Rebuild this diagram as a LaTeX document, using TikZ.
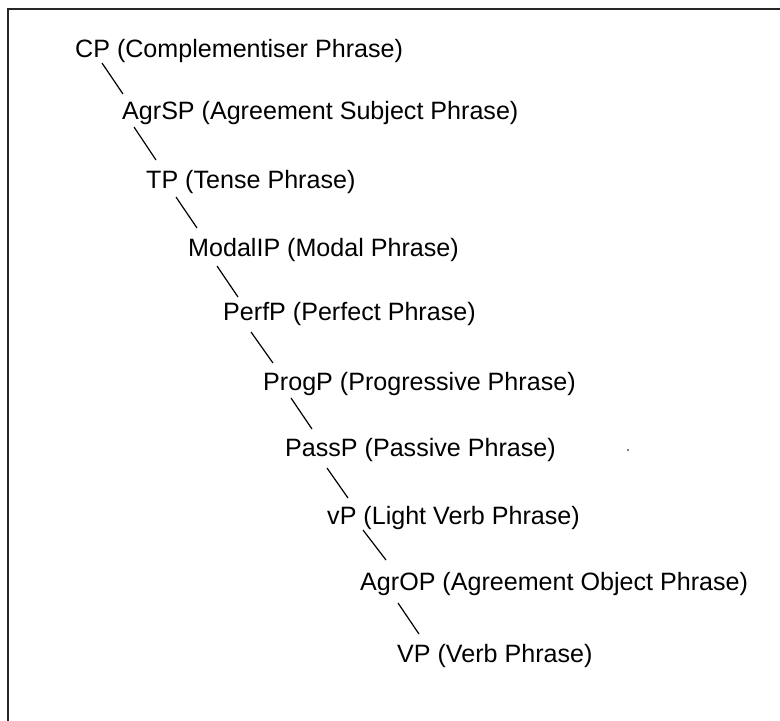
\documentclass[tikz,border=0pt]{standalone}
\usepackage{fontspec}
\setmainfont{Liberation Sans}
\begin{document}
\begin{tikzpicture}[x=1pt,y=-1pt,
  lbl/.style={inner sep=0pt, anchor=base west, font=\fontsize{25.1}{30}\selectfont},
  branch/.style={line width=1.2pt, black},
  frame/.style={line width=2pt, black!85}]
\useasboundingbox (0,0) rectangle (780,721);
% outer frame (open to the right and bottom)
\draw[frame] (8,730) -- (8,9) -- (790,9);

% phrase labels
\node[lbl] (cp)    at (75,57)   {CP (Complementiser Phrase)};
\node[lbl] (agrs)  at (122,119) {AgrSP (Agreement Subject Phrase)};
\node[lbl] (tp)    at (146,188) {TP (Tense Phrase)};
\node[lbl] (modal) at (188,256) {ModalIP (Modal Phrase)};
\node[lbl] (perf)  at (223,320) {PerfP (Perfect Phrase)};
\node[lbl] (prog)  at (263,390) {ProgP (Progressive Phrase)};
\node[lbl] (pass)  at (285,456) {PassP (Passive Phrase)};
\node[lbl] (vp)    at (327,524) {vP (Light Verb Phrase)};
\node[lbl] (agro)  at (360,590) {AgrOP (Agreement Object Phrase)};
\node[lbl] (verb)  at (397,662) {VP (Verb Phrase)};

% stray dot
\fill (628,450) circle (0.9);

% branches
\draw[branch] ([shift={(27,6)}]cp.base west)    -- ([shift={(1,-25)}]agrs.base west);
\draw[branch] ([shift={(12,8)}]agrs.base west)  -- ([shift={(10,-28)}]tp.base west);
\draw[branch] ([shift={(30,9)}]tp.base west)    -- ([shift={(9,-28)}]modal.base west);
\draw[branch] ([shift={(29,10)}]modal.base west) -- ([shift={(15,-23)}]perf.base west);
\draw[branch] ([shift={(28,12)}]perf.base west) -- ([shift={(10,-27)}]prog.base west);
\draw[branch] ([shift={(28,8)}]prog.base west)  -- ([shift={(27,-27)}]pass.base west);
\draw[branch] ([shift={(42,12)}]pass.base west) -- ([shift={(21,-26)}]vp.base west);
\draw[branch] ([shift={(36,6)}]vp.base west)    -- ([shift={(26,-30)}]agro.base west);
\draw[branch] ([shift={(38,13)}]agro.base west) -- ([shift={(22,-28)}]verb.base west);
\end{tikzpicture}
\end{document}
